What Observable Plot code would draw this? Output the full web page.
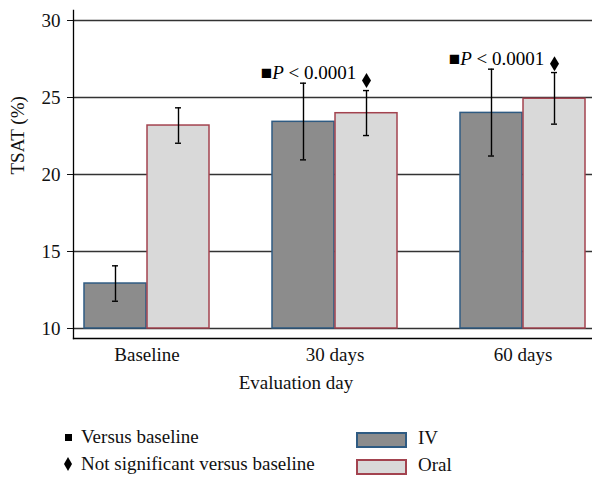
<!DOCTYPE html>
<html>
<head>
<meta charset="utf-8">
<script src="https://cdn.jsdelivr.net/npm/d3@7"></script>
<script src="https://cdn.jsdelivr.net/npm/@observablehq/plot@0.6"></script>
<style>
  body { margin: 0; background: #fff; }
  #wrap { position: relative; width: 592px; height: 480px; font-family: "Liberation Serif", serif; font-size: 19px; color: #111; }
  .lg { position: absolute; line-height: 19px; white-space: nowrap; }
</style>
</head>
<body>
<div id="wrap"></div>
<script>
const days = ["Baseline", "30 days", "60 days"];
const series = ["IV", "Oral"];
const ivMean = [12.92, 23.42, 24.0];
const ivLow = [11.77, 20.95, 21.2];
const ivHigh = [14.07, 25.93, 26.84];
const oralMean = [23.18, 23.98, 24.92];
const oralLow = [22.03, 22.53, 23.27];
const oralHigh = [24.33, 25.45, 26.62];
const yTicks = [10, 15, 20, 25, 30];
const pDays = ["30 days", "60 days"];
const pLabelY = [26.6, 27.5];
const nsDays = ["30 days", "60 days"];
const nsY = [26.1, 27.2];
const pText = "■P < 0.0001";
const legendMarks = ["Versus baseline", "Not significant versus baseline"];

const ivRows = days.map((d, i) => ({day: d, group: "IV", mean: ivMean[i], low: ivLow[i], high: ivHigh[i]}));
const oralRows = days.map((d, i) => ({day: d, group: "Oral", mean: oralMean[i], low: oralLow[i], high: oralHigh[i]}));
const pRows = pDays.map((d, i) => ({day: d, y: pLabelY[i]}));
const nsRows = nsDays.map((d, i) => ({day: d, y: nsY[i]}));

const W = 592, H = 400, ML = 73, MR = 0, MT = 10, MB = 62;
const FS = 19;
const xOpts = {paddingInner: 0.333, paddingOuter: 0.04, align: 0.64};
const band = d3.scaleBand(days, [ML, W - MR]).paddingInner(xOpts.paddingInner).paddingOuter(xOpts.paddingOuter).align(xOpts.align);
const half = band.bandwidth() / 2;   // width of one bar
const q = half / 2;                  // bar centre offset from group centre
const cap = 3.5;                     // half width of error-bar caps

const lozenge = {
  draw(context, size) {
    const r = Math.sqrt(size / Math.PI);
    context.moveTo(0, -r);
    context.lineTo(0.6 * r, 0);
    context.lineTo(0, r);
    context.lineTo(-0.6 * r, 0);
    context.closePath();
  }
};

const ivFill = "#8c8c8c", ivStroke = "#2f5b82";
const oralFill = "#d9d9d9", oralStroke = "#a3434f";
const eb = {stroke: "#000", strokeWidth: 1.4};

const plot = Plot.plot({
  width: W,
  height: H,
  marginLeft: ML,
  marginRight: MR,
  marginTop: MT,
  marginBottom: MB,
  style: {fontFamily: "'Liberation Serif', serif", fontSize: FS + "px", color: "#111", background: "white"},
  x: {domain: days, ...xOpts, label: null},
  y: {domain: [9.35, 30.65]},
  marks: [
    Plot.ruleY(yTicks, {stroke: "#333", strokeWidth: 1.3}),
    Plot.barY(ivRows, {x: "day", y1: 10, y2: "mean", insetRight: half, fill: ivFill, stroke: ivStroke, strokeWidth: 1.5}),
    Plot.barY(oralRows, {x: "day", y1: 10, y2: "mean", insetLeft: half, fill: oralFill, stroke: oralStroke, strokeWidth: 1.5}),
    Plot.ruleX(ivRows, {x: "day", y1: "low", y2: "high", dx: -q, ...eb}),
    Plot.ruleX(oralRows, {x: "day", y1: "low", y2: "high", dx: q, ...eb}),
    Plot.tickY(ivRows, {x: "day", y: "low", insetLeft: q - cap, insetRight: half + q - cap, ...eb}),
    Plot.tickY(ivRows, {x: "day", y: "high", insetLeft: q - cap, insetRight: half + q - cap, ...eb}),
    Plot.tickY(oralRows, {x: "day", y: "low", insetLeft: half + q - cap, insetRight: q - cap, ...eb}),
    Plot.tickY(oralRows, {x: "day", y: "high", insetLeft: half + q - cap, insetRight: q - cap, ...eb}),
    Plot.text(pRows, {x: "day", y: "y", text: () => pText, dx: -q + 5, fill: "#000", fontSize: FS}),
    Plot.dot(nsRows, {x: "day", y: "y", dx: q, symbol: lozenge, r: 7.5, fill: "#000", stroke: "none"}),
    Plot.frame({anchor: "left", stroke: "#000", strokeWidth: 1.3}),
    Plot.frame({anchor: "bottom", stroke: "#000", strokeWidth: 1.3}),
    Plot.axisY({ticks: yTicks, tickSize: 6, tickPadding: 7, label: null, fontSize: FS}),
    Plot.axisX({anchor: "bottom", tickSize: 0, tickPadding: 9, label: null, fontSize: FS}),
    Plot.text(["TSAT (%)"], {frameAnchor: "left", rotate: -90, dx: -56, fontSize: FS, fill: "#111"}),
    Plot.text(["Evaluation day"], {frameAnchor: "bottom", dy: 50, dx: -37, fontSize: FS, fill: "#111"})
  ]
});

// italicize the P in the significance labels
d3.select(plot).selectAll("text").each(function() {
  if (this.textContent === pText) {
    const t = d3.select(this);
    t.text(null);
    t.append("tspan").text(pText.slice(0, 1));
    t.append("tspan").attr("font-style", "italic").text(pText.slice(1, 2));
    t.append("tspan").text(pText.slice(2));
  }
});

const wrap = document.getElementById("wrap");
wrap.appendChild(plot);

function add(html, style, cls) {
  const el = document.createElement("div");
  if (cls) el.className = cls;
  el.innerHTML = html;
  Object.assign(el.style, {position: "absolute"}, style);
  wrap.appendChild(el);
  return el;
}
// legend: significance markers
add("", {left: "65px", top: "434px", width: "7px", height: "7px", background: "#000"});
add(legendMarks[0], {left: "81px", top: "427px"}, "lg");
add('<svg width="8" height="14" viewBox="-4 -7 8 14"><path d="M0,-7L4,0L0,7L-4,0Z" fill="#000"/></svg>', {left: "64px", top: "457px", width: "8px", height: "14px", lineHeight: "0"});
add(legendMarks[1], {left: "81px", top: "454px"}, "lg");
// legend: series swatches
add("", {left: "356px", top: "432px", width: "51px", height: "16px", boxSizing: "border-box", border: "2px solid " + ivStroke, background: ivFill});
add(series[0], {left: "418px", top: "428px"}, "lg");
add("", {left: "356px", top: "459px", width: "51px", height: "16px", boxSizing: "border-box", border: "2px solid " + oralStroke, background: oralFill});
add(series[1], {left: "418px", top: "455px"}, "lg");
</script>
</body>
</html>
